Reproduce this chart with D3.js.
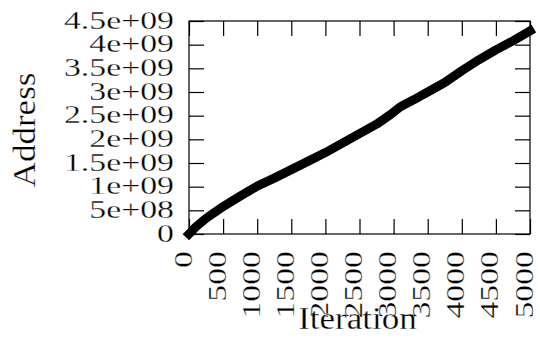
<!DOCTYPE html>
<html>
<head>
<meta charset="utf-8">
<script src="https://cdn.jsdelivr.net/npm/d3@7"></script>
<style>
  html, body { margin: 0; padding: 0; background: #fff; }
  svg { display: block; }
  text { font-family: "Liberation Serif", "Times New Roman", serif; fill: #000; }
  .tick-label { font-size: 26px; stroke: #fff; stroke-width: 0.3px; }
  .axis-title { font-size: 31px; stroke: #fff; stroke-width: 0.3px; }
</style>
</head>
<body>
<svg id="chart" width="540" height="338"></svg>
<script>
// Address reached at each iteration
const iterations = [0, 100, 250, 500, 750, 1000, 1250, 1500, 1750, 2000, 2250, 2500, 2750, 2950, 3100, 3300, 3500, 3750, 4000, 4250, 4500, 4750, 5000];
const addresses = [0, 0.15e9, 0.33e9, 0.58e9, 0.8e9, 1.01e9, 1.18e9, 1.36e9, 1.54e9, 1.72e9, 1.92e9, 2.12e9, 2.32e9, 2.52e9, 2.69e9, 2.84e9, 3.0e9, 3.2e9, 3.45e9, 3.68e9, 3.89e9, 4.08e9, 4.29e9];

const xTicks = [0, 500, 1000, 1500, 2000, 2500, 3000, 3500, 4000, 4500, 5000];
const xTickLabels = ["0", "500", "1000", "1500", "2000", "2500", "3000", "3500", "4000", "4500", "5000"];
const yTicks = [0, 5e8, 1e9, 1.5e9, 2e9, 2.5e9, 3e9, 3.5e9, 4e9, 4.5e9];
const yTickLabels = ["0", "5e+08", "1e+09", "1.5e+09", "2e+09", "2.5e+09", "3e+09", "3.5e+09", "4e+09", "4.5e+09"];

const svg = d3.select("#chart");
const plotLeft = 189, plotRight = 530, plotTop = 21, plotBottom = 234;
const tickLen = 15;
const stretch = 1.3;

const x = d3.scaleLinear().domain([0, 5000]).range([plotLeft, plotRight]);
const y = d3.scaleLinear().domain([0, 4.5e9]).range([plotBottom, plotTop]);

// inward ticks on all four sides
function styleAxis(g) {
  g.select(".domain").remove();
  g.selectAll(".tick line").attr("stroke", "#000").attr("stroke-width", 1.2);
  g.selectAll(".tick text").remove();
}
svg.append("g").attr("transform", `translate(0,${plotBottom})`)
  .call(d3.axisBottom(x).tickValues(xTicks).tickSize(-tickLen).tickFormat(""))
  .call(styleAxis);
svg.append("g").attr("transform", `translate(0,${plotTop})`)
  .call(d3.axisTop(x).tickValues(xTicks).tickSize(-tickLen).tickFormat(""))
  .call(styleAxis);
svg.append("g").attr("transform", `translate(${plotLeft},0)`)
  .call(d3.axisLeft(y).tickValues(yTicks).tickSize(-tickLen).tickFormat(""))
  .call(styleAxis);
svg.append("g").attr("transform", `translate(${plotRight},0)`)
  .call(d3.axisRight(y).tickValues(yTicks).tickSize(-tickLen).tickFormat(""))
  .call(styleAxis);

// frame
svg.append("rect")
  .attr("x", plotLeft).attr("y", plotTop)
  .attr("width", plotRight - plotLeft).attr("height", plotBottom - plotTop)
  .attr("fill", "none").attr("stroke", "#000").attr("stroke-width", 1.2);

// y tick labels
svg.append("g").selectAll("text").data(yTicks).join("text")
  .attr("class", "tick-label")
  .attr("transform", d => `translate(174,${y(d) + 7.5}) scale(${stretch},1)`)
  .attr("text-anchor", "end")
  .text((d, i) => yTickLabels[i]);

// x tick labels, rotated
svg.append("g").selectAll("text").data(xTicks).join("text")
  .attr("class", "tick-label")
  .attr("transform", d => `translate(${x(d) + 2.5},251) rotate(-90) scale(${stretch},1)`)
  .attr("text-anchor", "end")
  .text((d, i) => xTickLabels[i]);

// axis titles
svg.append("text")
  .attr("class", "axis-title")
  .attr("transform", `translate(35,130) rotate(-90) scale(1.13,1)`)
  .attr("text-anchor", "middle")
  .text("Address");
svg.append("text")
  .attr("class", "axis-title")
  .attr("transform", `translate(357.5,329) scale(1.13,1)`)
  .attr("text-anchor", "middle")
  .text("Iteration");

// data line
const line = d3.line().x((d, i) => x(iterations[i])).y(d => y(d));
svg.append("path")
  .datum(addresses)
  .attr("d", line)
  .attr("fill", "none")
  .attr("stroke", "#000")
  .attr("stroke-width", 9)
  .attr("stroke-linejoin", "round")
  .attr("stroke-linecap", "square");
</script>
</body>
</html>
